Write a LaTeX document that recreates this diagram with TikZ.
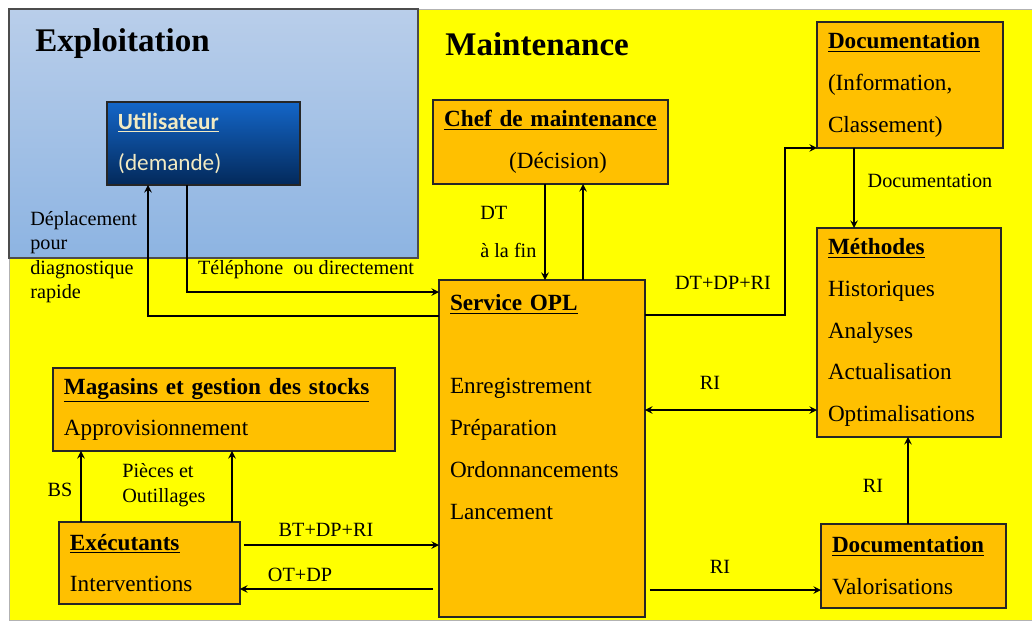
\documentclass[tikz,border=0pt]{standalone}
\usepackage{fontspec}
\setmainfont{Liberation Serif}
\newfontfamily\calibri{Carlito}
\usetikzlibrary{calc,positioning}

\definecolor{jaune}{HTML}{FFFF00}
\definecolor{orangebox}{HTML}{FFC000}
\definecolor{bleuclair}{HTML}{B9CEEA}
\definecolor{bleufonce}{HTML}{8DB4E2}
\definecolor{bleuuser}{HTML}{1466C8}
\definecolor{marine}{HTML}{03295A}
\definecolor{creme}{HTML}{F2EAC2}

\tikzstyle{bloc} = [rectangle, draw=black!85, line width=1pt, fill=orangebox, anchor=north west, outer sep=0pt, inner xsep=0.22cm, align=left, font=\fontsize{13.2}{23.8}\selectfont]
\tikzstyle{etiq} = [inner sep=0pt, align=left, font=\fontsize{11.5}{13.9}\selectfont]
\tikzstyle{zone} = [anchor=west, inner sep=0pt, font=\fontsize{18.8}{22}\selectfont\bfseries]
\tikzstyle{arrow} = [line width=0.9pt,->,>=stealth]

\begin{document}
\begin{tikzpicture}[x=0.02cm, y=-0.02cm]
      \useasboundingbox (0,0) rectangle (1032,620);
      % fonds
      \fill[jaune, draw=gray!60] (9,9) rectangle (1032,620);
      \shade[top color=bleuclair, bottom color=bleufonce, draw=black!70, line width=0.8pt] (9,9) rectangle (418,258);
      \node[zone] (expl) at (35,44) {Exploitation};
      \node[zone] (maint) at (445,44) {Maintenance};

      % blocs
      \node[bloc, font=\calibri\fontsize{13.2}{23.8}\selectfont, text=creme, draw=black!85, top color=bleuuser, bottom color=marine, text width=3.42cm, minimum height=1.66cm] (user) at (107,102) {\underline{\textbf{Utilisateur}}\\(demande)};
      \node[bloc, align=center, inner xsep=0.1cm, text width=4.5cm, minimum height=1.68cm] (chef) at (433,100) {\underline{\textbf{Chef de maintenance}}\\\hspace{0.3cm}(Décision)};
      \node[bloc, text width=3.28cm, minimum height=2.52cm] (doc1) at (817,22) {\underline{\textbf{Documentation}}\\(Information,\\Classement)};
      \node[bloc, text width=3.24cm, minimum height=4.18cm] (meth) at (817,228) {\underline{\textbf{Méthodes}}\\Historiques\\Analyses\\Actualisation\\Optimalisations};
      \node[bloc, text width=3.68cm, minimum height=6.74cm] (opl) at (439,280) {\underline{\textbf{Service OPL}}\\\mbox{}\\Enregistrement\\Préparation\\Ordonnancements\\Lancement\\\mbox{}\\\mbox{}};
      \node[bloc, text width=6.40cm, minimum height=1.66cm] (mag) at (53,368) {\underline{\textbf{Magasins et gestion des stocks}}\\Approvisionnement};
      \node[bloc, text width=3.18cm, minimum height=1.64cm] (exec) at (59,522) {\underline{\textbf{Exécutants}}\\Interventions};
      \node[bloc, text width=3.26cm, minimum height=1.68cm] (doc2) at (821,524) {\underline{\textbf{Documentation}}\\Valorisations};

      % liaisons
      \coordinate (u1) at ($(user.south west)+(80,0)$);
      \draw[arrow] (u1) |- ($(opl.north west)+(0,12)$);
      \draw[arrow] ($(opl.north west)+(0,36)$) -| ($(user.south west)+(41,0)$);
      \coordinate (c1) at ($(chef.south west)+(112,0)$);
      \draw[arrow] (c1) -- (c1 |- opl.north);
      \coordinate (c2) at ($(opl.north west)+(144,0)$);
      \draw[arrow] (c2) -- (c2 |- chef.south);
      \draw[arrow] ($(opl.north east)+(0,35)$) -- ++(140,0) |- (doc1.south west);
      \coordinate (m1) at ($(opl.north east)+(0,130)$);
      \draw[arrow,<->] (m1) -- (m1 -| meth.west);
      \coordinate (d1) at ($(doc1.south west)+(37,0)$);
      \draw[arrow] (d1) -- (d1 |- meth.north);
      \coordinate (d2) at ($(doc2.north west)+(87,0)$);
      \draw[arrow] (d2) -- (d2 |- meth.south);
      \coordinate (d3) at ($(doc2.north west)+(0,66)$);
      \draw[arrow] ($(d3 -| opl.east)+(5,0)$) -- (d3);
      \coordinate (e1) at ($(exec.north east)+(4,23)$);
      \draw[arrow] (e1) -- (e1 -| opl.west);
      \coordinate (e2) at ($(exec.north east)+(0,67)$);
      \draw[arrow] ($(e2 -| opl.west)+(-6,0)$) -- (e2);
      \coordinate (s1) at ($(exec.north west)+(22,0)$);
      \draw[arrow] (s1) -- (s1 |- mag.south);
      \coordinate (s2) at ($(exec.north west)+(173,0)$);
      \draw[arrow] (s2) -- (s2 |- mag.south);

      % etiquettes
      \node[etiq] (ltel) at (306,270) {Téléphone\ \ ou directement};
      \node[etiq, anchor=west] (ldep) at (30,257) {Déplacement\\pour\\diagnostique\\rapide};
      \node[etiq, anchor=west] (ldt) at (480,232) {DT\\[8pt]à la fin};
      \node[etiq] (ldt2) at (723,283) {DT+DP+RI};
      \node[etiq] (lri1) at (710,383) {RI};
      \node[etiq] (ldoc) at (930,181) {Documentation};
      \node[etiq] (lri2) at (873,486) {RI};
      \node[etiq] (lri3) at (720,567) {RI};
      \node[etiq] (lbt) at (326,530) {BT+DP+RI};
      \node[etiq] (lot) at (300,575) {OT+DP};
      \node[etiq] (lbs) at (60,490) {BS};
      \node[etiq, anchor=west] (lpie) at (122,485) {Pièces et\\Outillages};
\end{tikzpicture}
\end{document}
